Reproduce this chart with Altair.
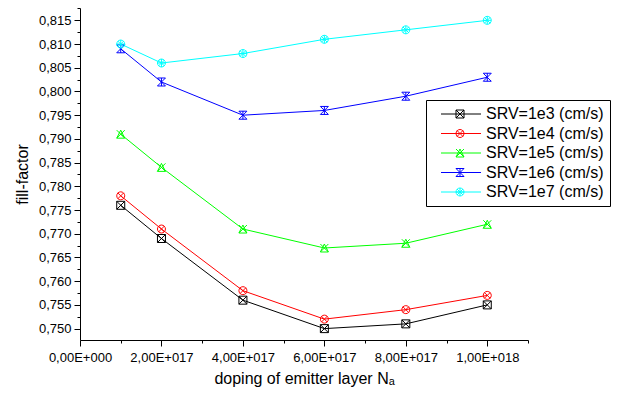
import altair as alt
import pandas as pd

doping = [1e17, 2e17, 4e17, 6e17, 8e17, 1e18]
series_names = ["SRV=1e3 (cm/s)", "SRV=1e4 (cm/s)", "SRV=1e5 (cm/s)", "SRV=1e6 (cm/s)", "SRV=1e7 (cm/s)"]
srv_1e3 = [0.776, 0.769, 0.756, 0.750, 0.751, 0.755]
srv_1e4 = [0.778, 0.771, 0.758, 0.752, 0.754, 0.757]
srv_1e5 = [0.791, 0.784, 0.771, 0.767, 0.768, 0.772]
srv_1e6 = [0.809, 0.802, 0.795, 0.796, 0.799, 0.803]
srv_1e7 = [0.810, 0.806, 0.808, 0.811, 0.813, 0.815]
colors = ["#000000", "#ff0000", "#00ff00", "#0000ff", "#00ffff"]

x_ticks = [i * 1e17 for i in range(0, 12)]
y_ticks = [round(0.75 + i * 0.0025, 4) for i in range(0, 28)]

rows = []
for name, vals in zip(series_names, [srv_1e3, srv_1e4, srv_1e5, srv_1e6, srv_1e7]):
    for xv, yv in zip(doping, vals):
        rows.append({"series": name, "doping": xv, "ff": yv})
df = pd.DataFrame(rows)


def marker_paths(c):
    """Marker outlines (unit size) centred at x = c."""
    xc = f"M{c-0.75},-0.75L{c+0.75},0.75M{c+0.75},-0.75L{c-0.75},0.75"
    circ = f"M{c+1},0A1,1 0 1,1 {c-1},0A1,1 0 1,1 {c+1},0Z"
    return [
        f"M{c-1},-1H{c+1}V1H{c-1}Z M{c-1},-1L{c+1},1M{c+1},-1L{c-1},1",
        circ + " " + xc,
        f"M{c},-1L{c+1},1H{c-1}Z M{c-1},-1L{c+1},1M{c+1},-1L{c-1},1",
        f"M{c-1},-1H{c+1}L{c-1},1H{c+1}Z M{c},-1V1",
        circ + " " + xc + f" M{c},-1V1M{c-1},0H{c+1}",
    ]


markers = marker_paths(0)
legend_shapes = ["M0.25,0H10.25 " + m for m in marker_paths(5)]

x_label = ("round(datum.value/1e17) % 2 == 0 ? (datum.value == 0 ? '0,00E+000' : "
           "replace(format(datum.value / pow(10, floor(log(datum.value)/LN10 + 1e-9)), '.2f'), '.', ',') + 'E+' + "
           "pad(toString(floor(log(datum.value)/LN10 + 1e-9)), 3, '0', 'left')) : ''")
y_label = "round(datum.value*1000) % 5 == 0 ? replace(format(datum.value, '.3f'), '.', ',') : ''"

x_enc = alt.X("doping:Q", scale=alt.Scale(domain=[0, 1.1e18], nice=False, zero=False),
              axis=alt.Axis(values=x_ticks, labelExpr=x_label, grid=False,
                            title="doping of emitter layer Nₐ",
                            tickSize={"condition": {"test": "round(datum.value/1e17) % 2 == 0", "value": 6}, "value": 3},
                            labelFlush=False, labelOverlap=False, labelPadding=5,
                            titlePadding=6))
y_enc = alt.Y("ff:Q", scale=alt.Scale(domain=[0.7476, 0.8176], nice=False, zero=False),
              axis=alt.Axis(values=y_ticks, labelExpr=y_label, grid=False, title="fill-factor",
                            tickSize={"condition": {"test": "round(datum.value*1000) % 5 == 0", "value": 6}, "value": 3},
                            labelFlush=False, labelOverlap=False, labelPadding=3, titlePadding=8))

color_main = alt.Color("series:N", scale=alt.Scale(domain=series_names, range=colors), legend=None)
shape_main = alt.Shape("series:N", scale=alt.Scale(domain=series_names, range=markers), legend=None)

base = alt.Chart(df)
lines = base.mark_line(strokeWidth=1).encode(x=x_enc, y=y_enc, color=color_main, detail="series:N")
points = base.mark_point(filled=False, size=64, strokeWidth=1, opacity=1).encode(
    x=x_enc, y=y_enc, color=color_main, shape=shape_main)

legend_layer = base.transform_filter("false").mark_point(filled=False, size=64, strokeWidth=1, opacity=1).encode(
    x=x_enc, y=y_enc,
    color=alt.Color("series:N", scale=alt.Scale(domain=series_names, range=colors),
                    legend=alt.Legend(title=None, orient="none", legendX=346, legendY=92,
                                      symbolSize=64, symbolStrokeWidth=1, symbolOffset=0,
                                      labelOffset=38, labelFontSize=16, labelFont="Liberation Sans",
                                      labelColor="#000000", rowPadding=3.5, padding=6,
                                      strokeColor="#000000", fillColor="#ffffff", labelLimit=300)),
    shape=alt.Shape("series:N", scale=alt.Scale(domain=series_names, range=legend_shapes)),
)

chart = alt.layer(lines, points, legend_layer).resolve_scale(
    color="independent", shape="independent"
).properties(
    width=448, height=332,
    autosize=alt.AutoSizeParams(type="none"),
    padding={"left": 72, "top": 0, "right": 85, "bottom": 49},
).configure_view(stroke=None).configure_axis(
    domainColor="#000000", tickColor="#000000", labelColor="#000000", titleColor="#000000",
    labelFont="Liberation Sans", titleFont="Liberation Sans", labelFontSize=13, titleFontSize=16,
    titleFontWeight="normal", domainWidth=1, tickWidth=1,
)

chart.save("out.html", embed_options={"renderer": "svg", "actions": False})
